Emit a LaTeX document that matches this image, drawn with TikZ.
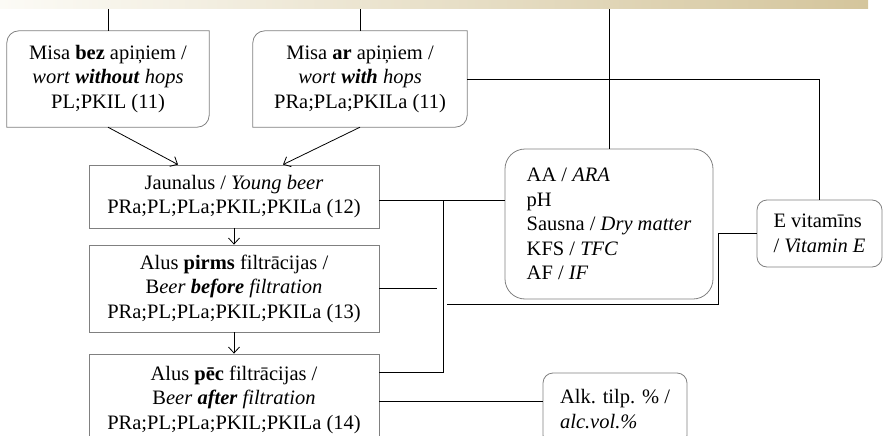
\documentclass[tikz,border=0pt]{standalone}
\usepackage{fontspec}
\setmainfont{Liberation Serif}
\usetikzlibrary{arrows.meta}
\definecolor{boxgray}{RGB}{128,128,128}
\definecolor{bandleft}{RGB}{252,251,246}
\definecolor{bandmid}{RGB}{240,234,214}
\definecolor{bandright}{RGB}{212,197,156}

% outline with top-left and bottom-right corners rounded
\newcommand{\halfround}[1]{%
  \draw[boxline] (#1.south west) -- ([yshift=-12pt]#1.north west)
    arc[start angle=180,end angle=90,radius=12pt] -- (#1.north east)
    -- ([yshift=12pt]#1.south east)
    arc[start angle=0,end angle=-90,radius=12pt] -- cycle;}

\begin{document}
\begin{tikzpicture}[x=1pt,y=-1pt,font={\fontsize{20.5}{24.5}\selectfont},
  stage/.style={inner sep=0pt,align=center},
  square/.style={stage,draw=boxgray,line width=0.8pt},
  roundbox/.style={stage,draw=boxgray,line width=0.8pt,rounded corners=#1,align=left},
  roundbox/.default=10pt,
  boxline/.style={draw=boxgray,line width=0.8pt},
  link/.style={line width=0.95pt},
  flow/.style={line width=0.8pt,-{Straight Barb[length=6pt,width=11pt]}}]
  \useasboundingbox (0,0) rectangle (883,436);
  \clip (0,0) rectangle (883,436);
  \shade[left color=bandleft,middle color=bandmid,right color=bandright] (0,0) rectangle (868,9);

  % wort
  \node[stage,minimum width=202pt,minimum height=96pt] (bez) at (108,79)
    {Misa \textbf{bez} apiņiem /\\ \textit{wort} \textbf{\textit{without}} \textit{hops}\\ PL;PKIL (11)};
  \halfround{bez}
  \node[stage,minimum width=214pt,minimum height=96pt] (ar) at (360,79)
    {Misa \textbf{ar} apiņiem /\\ \textit{wort} \textbf{\textit{with}} \textit{hops}\\ PRa;PLa;PKILa (11)};
  \halfround{ar}

  % beer stages
  \node[square,minimum width=290pt,minimum height=63pt] (jaun) at (234,196.5)
    {Jaunalus / \textit{Young beer}\\ PRa;PL;PLa;PKIL;PKILa (12)};
  \node[square,minimum width=290pt,minimum height=87pt] (pirms) at (234,288.5)
    {Alus \textbf{pirms} filtrācijas /\\ B\textit{eer} \textbf{\textit{before}} \textit{filtration}\\ PRa;PL;PLa;PKIL;PKILa (13)};
  \node[square,minimum width=290pt,minimum height=91pt] (pec) at (234,399.5)
    {Alus \textbf{pēc} filtrācijas /\\ B\textit{eer} \textbf{\textit{after}} \textit{filtration}\\ PRa;PL;PLa;PKIL;PKILa (14)};

  % analyses
  \node[roundbox=20pt,minimum width=208pt,minimum height=150pt] (aa) at (609,224)
    {AA / \textit{ARA}\\ pH\\ Sausna / \textit{Dry matter}\\ KFS / \textit{TFC}\\ AF / \textit{IF}};
  \node[roundbox,minimum width=125pt,minimum height=67pt] (evit) at (819.5,233.5)
    {E vitamīns\\ / \textit{Vitamin E}};
  \node[roundbox,minimum width=144pt,minimum height=72pt] (alk) at (615,409)
    {Alk. tilp. \% /\\ \textit{alc.vol.\%}};

  \coordinate (top) at (0,9);
  \coordinate (bus) at (443,200);
  \coordinate (bus2) at (443,372);
  \coordinate (p1) at (437,288.5);
  \coordinate (e1) at (447,304);
  \coordinate (e2) at (718,304);
  \coordinate (low) at (0,401);

  \draw[link] (bez.north) -- (bez.north |- top);
  \draw[link] (ar.north) -- (ar.north |- top);
  \draw[link] (aa.north) -- (aa.north |- top);
  \draw[link] (ar.east) -| (evit.north);
  \draw[flow] (bez.south) -- ([xshift=-56pt]jaun.north);
  \draw[flow] (ar.south) -- ([xshift=49pt]jaun.north);
  \draw[flow] (jaun.south) -- (pirms.north);
  \draw[flow] (pirms.south) -- (pec.north);
  \draw[link] (jaun.east |- bus) -- (aa.west |- bus);
  \draw[link] (bus) -- (bus2) -- (pec.east |- bus2);
  \draw[link] (pirms.east) -- (p1);
  \draw[link] (evit.west) -| (e2) -- (e1);
  \draw[link] (pec.east |- low) -- (alk.west |- low);
\end{tikzpicture}
\end{document}
